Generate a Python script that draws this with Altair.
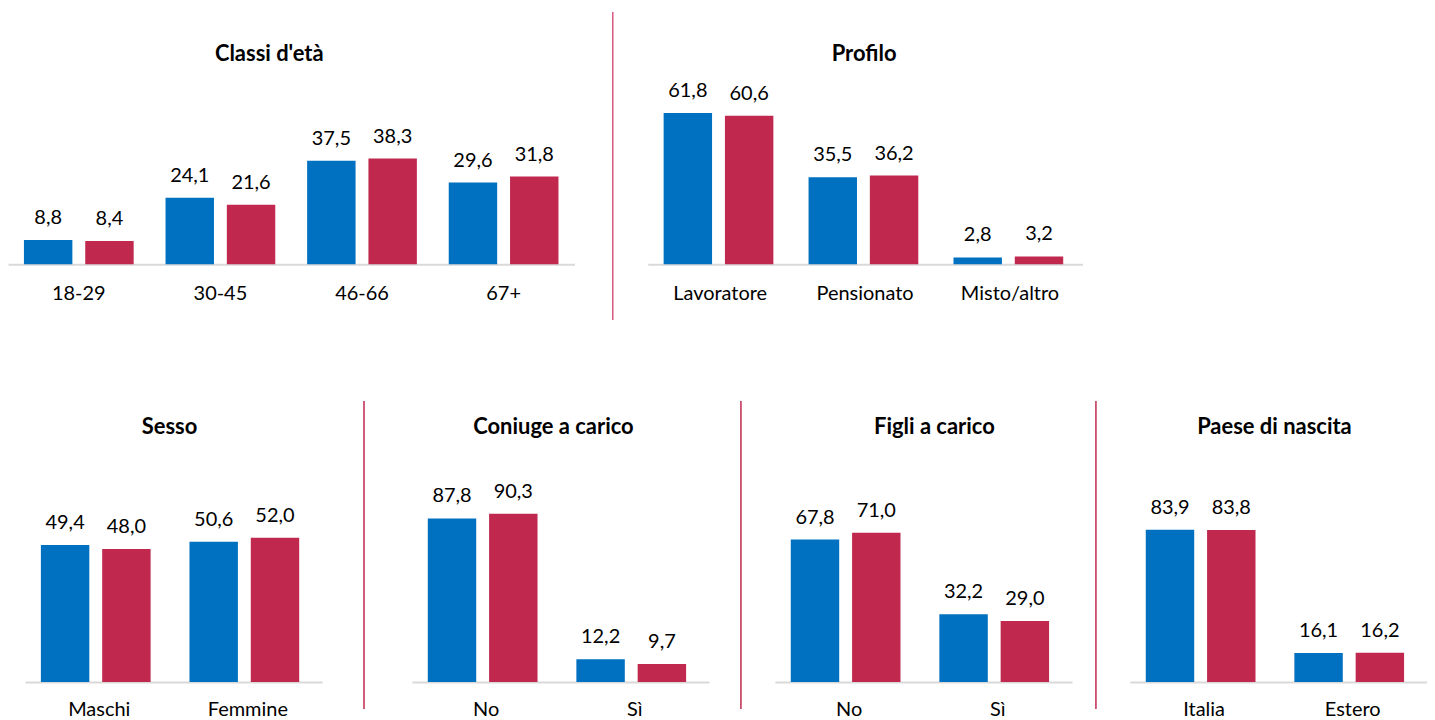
import altair as alt
import pandas as pd

# ---- data ----
series = ["Serie 1", "Serie 2"]
colors = ["#0070C0", "#C0284E"]

classi_title = "Classi d'età"
classi_cats = ["18-29", "30-45", "46-66", "67+"]
classi_s1 = [8.8, 24.1, 37.5, 29.6]
classi_s2 = [8.4, 21.6, 38.3, 31.8]

profilo_title = "Profilo"
profilo_cats = ["Lavoratore", "Pensionato", "Misto/altro"]
profilo_s1 = [61.8, 35.5, 2.8]
profilo_s2 = [60.6, 36.2, 3.2]

sesso_title = "Sesso"
sesso_cats = ["Maschi", "Femmine"]
sesso_s1 = [49.4, 50.6]
sesso_s2 = [48.0, 52.0]

coniuge_title = "Coniuge a carico"
coniuge_cats = ["No", "Sì"]
coniuge_s1 = [87.8, 12.2]
coniuge_s2 = [90.3, 9.7]

figli_title = "Figli a carico"
figli_cats = ["No", "Sì"]
figli_s1 = [67.8, 32.2]
figli_s2 = [71.0, 29.0]

paese_title = "Paese di nascita"
paese_cats = ["Italia", "Estero"]
paese_s1 = [83.9, 16.1]
paese_s2 = [83.8, 16.2]

FONT = "Lato"
FS = 20
TFS = 22


def panel(title, cats, v1, v2, width, height, ymax, title_x, title_y,
          rule_x, rule_y1, rule_y2, rule_color, rule_opacity, label_pad, pad_outer):
    rows = []
    for c, a, b in zip(cats, v1, v2):
        rows.append({"cat": c, "serie": series[0], "val": a,
                     "lab": f"{a:.1f}".replace(".", ",")})
        rows.append({"cat": c, "serie": series[1], "val": b,
                     "lab": f"{b:.1f}".replace(".", ",")})
    df = pd.DataFrame(rows)
    base = alt.Chart(df)
    x = alt.X("cat:N", sort=cats, title=None,
              scale=alt.Scale(paddingInner=0, paddingOuter=0),
              axis=alt.Axis(labelAngle=0, ticks=False, tickSize=0,
                            domainColor="#D9D9D9", domainWidth=2,
                            labelPadding=label_pad, labelFont=FONT,
                            labelFontSize=FS, labelColor="#000000",
                            labelBaseline="middle"))
    xo = alt.XOffset("serie:N", sort=series,
                     scale=alt.Scale(paddingInner=0.21, paddingOuter=pad_outer))
    y = alt.Y("val:Q", scale=alt.Scale(domain=[0, ymax], nice=False), axis=None)
    bars = base.mark_bar().encode(
        x=x, xOffset=xo, y=y,
        color=alt.Color("serie:N", scale=alt.Scale(domain=series, range=colors),
                        legend=None))
    vals = base.mark_text(baseline="middle", dy=-22, font=FONT, fontSize=FS,
                          color="#000000").encode(x=x, xOffset=xo, y=y, text="lab:N")
    ttl = alt.Chart(pd.DataFrame({"t": [title]})).mark_text(
        font=FONT, fontSize=TFS, fontWeight="bold", color="#000000",
        baseline="middle", align="center").encode(
        text="t:N", x=alt.value(title_x), y=alt.value(title_y))
    rule = alt.Chart(pd.DataFrame({"r": [0]})).mark_rule(
        color=rule_color, strokeWidth=1.5, opacity=rule_opacity).encode(
        x=alt.value(rule_x), y=alt.value(rule_y1), y2=alt.value(rule_y2))
    return alt.layer(rule, bars, vals, ttl).properties(width=width, height=height)


H1 = 183
H2 = 200

a = panel(classi_title, classi_cats, classi_s1, classi_s2, 568, H1, 66.1,
          262, -28, 0, -70, 239, "#D8587F", 0, 29, 0.26)
b = panel(profilo_title, profilo_cats, profilo_s1, profilo_s2, 436, H1, 74.5,
          217, -28, -35, -70, 239, "#D8587F", 1, 29, 0.26)

s = panel(sesso_title, sesso_cats, sesso_s1, sesso_s2, 298, H2, 71.9,
          145, -56, 0, -82, 227, "#C0284E", 0, 27, 0.24)
c = panel(coniuge_title, coniuge_cats, coniuge_s1, coniuge_s2, 298, H2, 107.0,
          142, -56, -48, -82, 227, "#C0284E", 1, 27, 0.24)
f = panel(figli_title, figli_cats, figli_s1, figli_s2, 298, H2, 94.8,
          160, -56, -34, -82, 227, "#C0284E", 1, 27, 0.24)
p = panel(paese_title, paese_cats, paese_s1, paese_s2, 298, H2, 109.9,
          145, -56, -34, -82, 227, "#C0284E", 1, 27, 0.24)

# invisible spacer so the bottom row starts a little to the right
spacer = alt.Chart(pd.DataFrame({"r": [0]})).mark_rule(opacity=0).encode(
    x=alt.value(0), y=alt.value(0), y2=alt.value(10)).properties(width=17, height=H2)

top = alt.hconcat(a, b, spacing=37.5)
bottom = alt.hconcat(
    spacer,
    alt.hconcat(s, alt.hconcat(c, alt.hconcat(f, p, spacing=23), spacing=31),
                spacing=41),
    spacing=0)

chart = alt.vconcat(top, bottom, spacing=79).properties(
    padding={"left": 0, "top": 2, "right": 0, "bottom": 0}
).configure_view(stroke=None)

chart.save("out.html", embed_options={"renderer": "svg", "actions": False})
